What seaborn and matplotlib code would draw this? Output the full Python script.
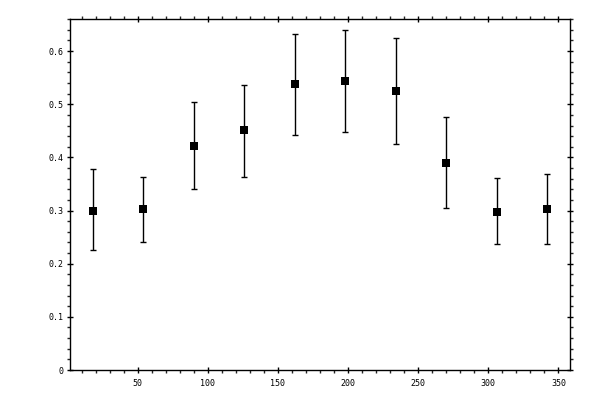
import numpy as np
import pandas as pd
import matplotlib
matplotlib.use("Agg")
import matplotlib.pyplot as plt
from matplotlib.ticker import MultipleLocator
import seaborn as sns

# --- datos ---
x_vals = [18, 54, 90, 126, 162, 198, 234, 270, 306, 342]
y_vals = [0.300, 0.302, 0.421, 0.451, 0.538, 0.543, 0.525, 0.389, 0.298, 0.302]
err_hi = [0.378, 0.364, 0.504, 0.537, 0.633, 0.640, 0.625, 0.476, 0.361, 0.369]
err_lo = [0.225, 0.240, 0.340, 0.364, 0.442, 0.447, 0.425, 0.304, 0.237, 0.237]
y_ticks = [0, 0.1, 0.2, 0.3, 0.4, 0.5, 0.6]
y_tick_labels = ["0", "0.1", "0.2", "0.3", "0.4", "0.5", "0.6"]
x_ticks = [50, 100, 150, 200, 250, 300, 350]

df = pd.DataFrame({"x": x_vals, "y": y_vals, "hi": err_hi, "lo": err_lo})

sns.set_style("ticks")
plt.rcParams["font.family"] = ["DejaVu Sans Mono"]

fig = plt.figure(figsize=(6, 4), dpi=100)
ax = fig.add_axes([0.1167, 0.075, 0.8333, 0.877])

yerr = np.vstack([df["y"] - df["lo"], df["hi"] - df["y"]])
ax.errorbar(df["x"], df["y"], yerr=yerr, fmt="none", ecolor="black",
            elinewidth=1.0, capsize=2.2, capthick=1.0, zorder=2)
sns.scatterplot(data=df, x="x", y="y", marker="s", color="black", s=26,
                edgecolor="black", linewidth=0, ax=ax, zorder=3)

ax.set_xlim(1.8, 358.2)
ax.set_ylim(0, 0.66)
ax.set_xticks(x_ticks)
ax.set_xticklabels([str(t) for t in x_ticks])
ax.set_yticks(y_ticks)
ax.set_yticklabels(y_tick_labels)
ax.xaxis.set_minor_locator(MultipleLocator(10))
ax.yaxis.set_minor_locator(MultipleLocator(0.02))
ax.set_xlabel("")
ax.set_ylabel("")

for s in ax.spines.values():
    s.set_visible(True)
    s.set_linewidth(1.0)
    s.set_color("black")

ax.tick_params(which="major", direction="inout", length=5, width=1.0,
               top=True, right=True, labelsize=6, pad=2, colors="black")
ax.tick_params(which="minor", direction="out", length=2.5, width=1.0,
               top=True, right=True)
ax.tick_params(axis="x", which="major", pad=4)

fig.savefig("out.png", dpi=100)
